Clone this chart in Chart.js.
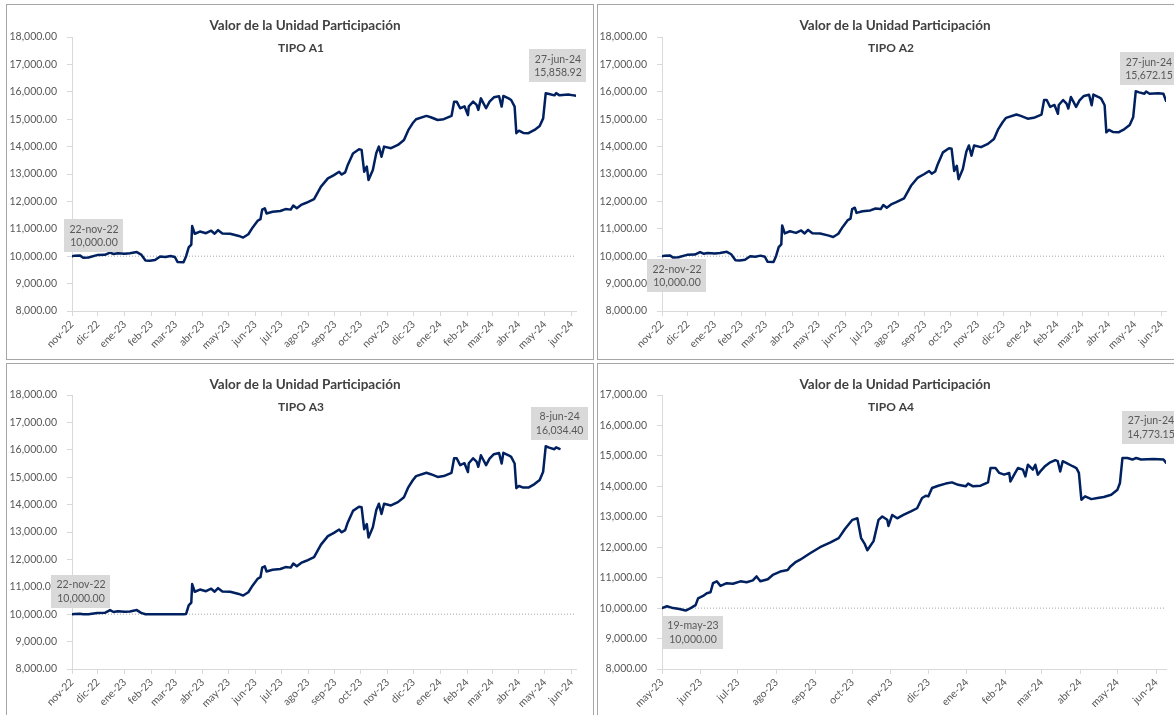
<!DOCTYPE html>
<html><head><meta charset="utf-8">
<script src="https://cdn.jsdelivr.net/npm/chart.js@4.4.1/dist/chart.umd.min.js"></script>
<style>
html,body{margin:0;padding:0;background:#fff;width:1174px;height:715px;overflow:hidden;position:relative}
.frame{position:absolute;border:1px solid #a6a6a6;box-sizing:border-box;pointer-events:none}
canvas{position:absolute}
</style></head><body>
<div class="frame" style="left:6px;top:4px;width:588px;height:356px"></div>
<div class="frame" style="left:597px;top:4px;width:600px;height:356px"></div>
<div class="frame" style="left:6px;top:363px;width:588px;height:370px"></div>
<div class="frame" style="left:597px;top:363px;width:600px;height:370px"></div>
<canvas id="c1" width="586" height="354" style="left:7px;top:5px"></canvas>
<canvas id="c2" width="576" height="354" style="left:598px;top:5px"></canvas>
<canvas id="c3" width="586" height="351" style="left:7px;top:364px"></canvas>
<canvas id="c4" width="576" height="351" style="left:598px;top:364px"></canvas>
<script>
// ---------------- DATA ----------------
const tituloGeneral = 'Valor de la Unidad Participación';
const tipos = ['TIPO A1', 'TIPO A2', 'TIPO A3', 'TIPO A4'];
const mesesAbr = ['ene','feb','mar','abr','may','jun','jul','ago','sep','oct','nov','dic'];

const etiquetasEjeA = ['nov-22','dic-22','ene-23','feb-23','mar-23','abr-23','may-23','jun-23','jul-23','ago-23','sep-23','oct-23','nov-23','dic-23','ene-24','feb-24','mar-24','abr-24','may-24','jun-24'];
const etiquetasEjeA4 = ['may-23','jun-23','jul-23','ago-23','sep-23','oct-23','nov-23','dic-23','ene-24','feb-24','mar-24','abr-24','may-24','jun-24'];
const finEje = '2024-06-27';
const valorInicial = 10000;

const fechasA = ['2022-11-22','2022-11-25','2022-12-01','2022-12-05','2022-12-11','2022-12-21','2022-12-30','2023-01-05','2023-01-09','2023-01-14',
'2023-01-22','2023-01-28','2023-02-05','2023-02-10','2023-02-15','2023-02-20','2023-02-26','2023-03-04','2023-03-10','2023-03-16',
'2023-03-21','2023-03-24','2023-03-31','2023-04-03','2023-04-06','2023-04-09','2023-04-10','2023-04-13','2023-04-19','2023-04-26',
'2023-05-02','2023-05-06','2023-05-10','2023-05-15','2023-05-24','2023-06-03','2023-06-08','2023-06-14','2023-06-19','2023-06-25',
'2023-06-28','2023-06-30','2023-07-03','2023-07-05','2023-07-12','2023-07-21','2023-07-27','2023-08-02','2023-08-05','2023-08-09',
'2023-08-14','2023-08-20','2023-08-29','2023-09-06','2023-09-14','2023-09-21','2023-09-27','2023-09-30','2023-10-04','2023-10-07',
'2023-10-13','2023-10-20','2023-10-23','2023-10-26','2023-10-29','2023-10-31','2023-11-05','2023-11-09','2023-11-12','2023-11-15',
'2023-11-18','2023-11-26','2023-12-04','2023-12-11','2023-12-16','2023-12-21','2023-12-25','2024-01-06','2024-01-11','2024-01-19',
'2024-01-26','2024-02-04','2024-02-07','2024-02-10','2024-02-14','2024-02-19','2024-02-23','2024-02-24','2024-02-29','2024-03-04',
'2024-03-06','2024-03-09','2024-03-12','2024-03-15','2024-03-19','2024-03-24','2024-03-30','2024-04-02','2024-04-04','2024-04-10',
'2024-04-13','2024-04-17','2024-04-19','2024-04-22','2024-04-27','2024-05-03','2024-05-10','2024-05-16','2024-05-20','2024-05-23',
'2024-05-27','2024-06-02','2024-06-04','2024-06-08','2024-06-18','2024-06-24','2024-06-27'];

const valoresA1 = [10000,10020,10030,9940,9950,10040,10050,10130,10080,10110,
10090,10110,10150,10060,9840,9830,9860,9990,9970,10010,
9970,9790,9780,10000,10320,10420,11100,10820,10900,10840,
10930,10820,10950,10830,10820,10740,10680,10800,11050,11300,
11350,11700,11750,11560,11620,11650,11720,11700,11850,11750,
11870,11950,12080,12540,12840,12960,13080,12980,13060,13330,
13750,13900,13880,13080,13270,12780,13150,13770,14000,13630,
14000,13940,14060,14240,14600,14850,15000,15120,15070,14970,
15000,15120,15640,15640,15400,15470,15150,15470,15640,15520,
15340,15760,15580,15400,15640,15800,15840,15460,15850,15760,
15700,15460,14490,14580,14500,14490,14610,14750,15030,15950,
15920,15870,15950,15870,15900,15870,15858.92];

const valoresA2 = [10000,10020,10030,9950,9960,10050,10060,10150,10090,10120,
10100,10120,10160,10070,9850,9840,9870,10000,9980,10020,
9980,9800,9790,10010,10330,10430,11120,10830,10910,10850,
10940,10830,10960,10840,10830,10750,10700,10820,11070,11320,
11370,11720,11770,11580,11640,11670,11740,11720,11870,11770,
11890,11970,12110,12570,12870,12990,13110,13010,13090,13360,
13790,13940,13920,13110,13300,12810,13180,13810,14040,13670,
14040,13980,14100,14280,14640,14890,15050,15170,15120,15020,
15050,15170,15700,15700,15450,15520,15200,15520,15700,15570,
15390,15810,15630,15450,15690,15850,15890,15510,15900,15810,
15750,15510,14520,14610,14530,14520,14640,14790,15070,16020,
15980,15930,16010,15930,15950,15930,15672.15];

const valoresA3 = [10000,10010,10020,10000,10000,10040,10050,10150,10080,10110,
10090,10100,10150,10050,10000,10000,10000,10000,10000,10000,
10000,10000,10000,10010,10320,10420,11100,10820,10900,10840,
10930,10820,10950,10830,10820,10740,10680,10800,11050,11300,
11350,11700,11750,11560,11620,11650,11720,11700,11850,11750,
11870,11950,12080,12540,12850,12970,13090,12990,13070,13350,
13770,13920,13900,13100,13290,12800,13170,13800,14030,13660,
14030,13970,14090,14270,14630,14880,15040,15160,15110,15010,
15040,15160,15690,15690,15440,15510,15190,15510,15690,15570,
15380,15800,15620,15440,15680,15840,15880,15500,15890,15800,
15740,15500,14600,14680,14620,14620,14750,14900,15200,16130,
16080,16020,16090,16034.40,null,null,null];

const fechasA4 = ['2023-05-19','2023-05-23','2023-05-28','2023-06-02','2023-06-07','2023-06-11','2023-06-15','2023-06-17','2023-06-21','2023-06-24',
'2023-06-27','2023-06-29','2023-07-02','2023-07-05','2023-07-10','2023-07-15','2023-07-21','2023-07-26','2023-07-31','2023-08-03',
'2023-08-06','2023-08-12','2023-08-16','2023-08-22','2023-08-28','2023-08-30','2023-09-03','2023-09-07','2023-09-15','2023-09-23',
'2023-10-01','2023-10-08','2023-10-13','2023-10-19','2023-10-23','2023-10-26','2023-10-29','2023-10-31','2023-11-05','2023-11-09',
'2023-11-12','2023-11-16','2023-11-17','2023-11-20','2023-11-24','2023-11-29','2023-12-05','2023-12-10','2023-12-14','2023-12-17',
'2023-12-19','2023-12-22','2023-12-27','2024-01-02','2024-01-07','2024-01-12','2024-01-18','2024-01-20','2024-01-24','2024-01-30',
'2024-02-05','2024-02-07','2024-02-11','2024-02-14','2024-02-18','2024-02-22','2024-02-23','2024-02-26','2024-02-29','2024-03-04',
'2024-03-06','2024-03-08','2024-03-12','2024-03-14','2024-03-16','2024-03-18','2024-03-22','2024-03-26','2024-03-30','2024-04-01',
'2024-04-03','2024-04-05','2024-04-07','2024-04-13','2024-04-16','2024-04-18','2024-04-20','2024-04-23','2024-04-28','2024-05-03',
'2024-05-08','2024-05-14','2024-05-19','2024-05-21','2024-05-23','2024-05-27','2024-05-31','2024-06-03','2024-06-07','2024-06-17',
'2024-06-25','2024-06-27'];

const valoresA4 = [10000,10060,10000,9970,9920,10000,10100,10320,10400,10490,
10520,10820,10880,10730,10820,10800,10880,10850,10910,11040,
10880,10950,11090,11200,11250,11360,11500,11590,11800,12000,
12150,12300,12600,12900,12950,12300,12100,11900,12200,12900,
13010,12900,12700,13060,12950,13060,13175,13280,13615,13690,
13670,13945,14020,14090,14130,14050,14000,14090,14000,14020,
14130,14600,14600,14440,14385,14440,14160,14385,14600,14550,
14325,14710,14550,14710,14385,14490,14670,14790,14860,14825,
14490,14825,14790,14660,14600,14440,13560,13670,13580,13615,
13650,13725,13890,14110,14930,14930,14880,14930,14880,14900,
14880,14773.15];

// ---------------- HELPERS ----------------
const DAY = 864e5;
const toDay = s => Date.UTC(+s.slice(0,4), +s.slice(5,7)-1, +s.slice(8,10)) / DAY;
const fmtNum = v => v.toLocaleString('en-US', {minimumFractionDigits: 2, maximumFractionDigits: 2});
const fmtFecha = s => (+s.slice(8,10)) + '-' + mesesAbr[+s.slice(5,7)-1] + '-' + s.slice(2,4);
function tickDays(inicio, n) {
  const y = +inicio.slice(0,4), m = +inicio.slice(5,7)-1, d = +inicio.slice(8,10);
  const out = [];
  for (let i = 0; i < n; i++) out.push(Date.UTC(y, m + i, d) / DAY);
  return out;
}

const FONT = 'Lato';
const GRAY = '#d9d9d9';
const TXT = '#595959';

function drawFit(ctx, text, x, y, weight, target) {
  ctx.font = weight + ' 13px ' + FONT;
  const w = ctx.measureText(text).width;
  const size = 13 * target / w;
  ctx.font = weight + ' ' + size.toFixed(2) + 'px ' + FONT;
  ctx.fillText(text, x, y);
}

const rotulos = {
  id: 'rotulos',
  afterDatasetsDraw(chart, args, o) {
    const ctx = chart.ctx;
    ctx.save();
    ctx.fillStyle = '#404040';
    ctx.textAlign = 'center';
    ctx.textBaseline = 'alphabetic';
    drawFit(ctx, o.titulo, o.tx, o.ty1, 'bold', 191);
    drawFit(ctx, o.subtitulo, o.tx - 4, o.ty2, 'bold', 46);
    const xs = chart.scales.x, ys = chart.scales.y;
    o.marcas.forEach(m => {
      const px = xs.getPixelForValue(toDay(m.fecha));
      const py = ys.getPixelForValue(m.valor);
      const l1 = fmtFecha(m.fecha), l2 = fmtNum(m.valor);
      ctx.font = '10.5px ' + FONT;
      const w = Math.max(ctx.measureText(l1).width, ctx.measureText(l2).width) + 10;
      const h = 33;
      const cx = px + m.dx, cy = py + m.dy;
      ctx.fillStyle = GRAY;
      ctx.fillRect(Math.round(cx - w/2), Math.round(cy - h/2), Math.round(w), h);
      ctx.fillStyle = TXT;
      ctx.textAlign = 'center';
      ctx.textBaseline = 'middle';
      ctx.fillText(l1, cx, cy - 6.5);
      ctx.fillText(l2, cx, cy + 7);
    });
    ctx.restore();
  }
};

function makeChart(id, fechas, valores, etiquetas, yMin, yMax, lay, tipo, offs) {
  const pts = fechas.map((f, i) => ({x: toDay(f), y: valores[i]}));
  const x0 = toDay(fechas[0]), x1 = toDay(finEje);
  const ticks = tickDays(fechas[0], etiquetas.length);
  let last = valores.length - 1;
  while (valores[last] === null) last--;
  new Chart(document.getElementById(id), {
    type: 'line',
    data: {
      datasets: [
        {data: [{x: x0, y: valorInicial}, {x: x1, y: valorInicial}], borderColor: '#a6a6a6', borderWidth: 1, borderDash: [1, 2], pointRadius: 0, order: 2},
        {data: pts, borderColor: '#002060', borderWidth: 2.5, pointRadius: 0, tension: 0, spanGaps: false, borderJoinStyle: 'round', borderCapStyle: 'round', order: 1}
      ]
    },
    options: {
      responsive: false,
      devicePixelRatio: 1,
      animation: false,
      events: [],
      layout: {padding: {left: 0, top: lay.top, right: lay.right, bottom: 0}},
      plugins: {
        legend: {display: false},
        tooltip: {enabled: false},
        rotulos: {
          titulo: tituloGeneral, subtitulo: tipo, tx: lay.tx, ty1: lay.ty1, ty2: lay.ty2,
          marcas: [
            {fecha: fechas[0], valor: valores[0], dx: offs[0], dy: offs[1]},
            {fecha: fechas[last], valor: valores[last], dx: offs[2], dy: offs[3]}
          ]
        }
      },
      scales: {
        x: {
          type: 'linear', min: x0, max: x1, bounds: 'data',
          afterBuildTicks: s => { s.ticks = ticks.map(v => ({value: v})); },
          afterFit: s => { s.height = lay.xh; s.paddingLeft = 0; s.paddingRight = 0; },
          grid: {display: true, drawOnChartArea: false, drawTicks: true, tickLength: 5, color: GRAY},
          border: {display: true, color: GRAY, width: 1},
          ticks: {autoSkip: false, maxRotation: 45, minRotation: 45, padding: 2, color: TXT, font: {family: FONT, size: 10.5},
                  callback: (v, i) => etiquetas[i]}
        },
        y: {
          min: yMin, max: yMax,
          afterFit: s => { s.width = lay.yw; },
          grid: {display: true, drawOnChartArea: false, drawTicks: true, tickLength: 5, color: GRAY},
          border: {display: true, color: GRAY, width: 1},
          ticks: {stepSize: 1000, padding: 10, color: TXT, font: {family: FONT, size: 10.5}, callback: v => fmtNum(v)}
        }
      }
    },
    plugins: [rotulos]
  });
}

const layTop = {yw: 65, top: 32, right: 17, xh: 48, tx: 298, ty1: 24.5, ty2: 46.5};
const layTop2 = {yw: 64, top: 32, right: 8, xh: 48, tx: 297, ty1: 24.5, ty2: 46.5};
const layBot = {yw: 65, top: 31, right: 17, xh: 46, tx: 298, ty1: 24.5, ty2: 46.5};
const layBot2 = {yw: 64, top: 31, right: 8, xh: 46, tx: 297, ty1: 24.5, ty2: 46.5};

makeChart('c1', fechasA, valoresA1, etiquetasEjeA, 8000, 18000, layTop, tipos[0], [22, -20.5, -18, -30]);
makeChart('c2', fechasA, valoresA2, etiquetasEjeA, 8000, 18000, layTop2, tipos[1], [15, 19.5, -17, -32]);
makeChart('c3', fechasA, valoresA3, etiquetasEjeA, 8000, 18000, layBot, tipos[2], [9, -23, 0, -25.5]);
makeChart('c4', fechasA4, valoresA4, etiquetasEjeA4, 8000, 17000, layBot2, tipos[3], [31, 24, -15, -35.5]);
</script>
</body></html>
